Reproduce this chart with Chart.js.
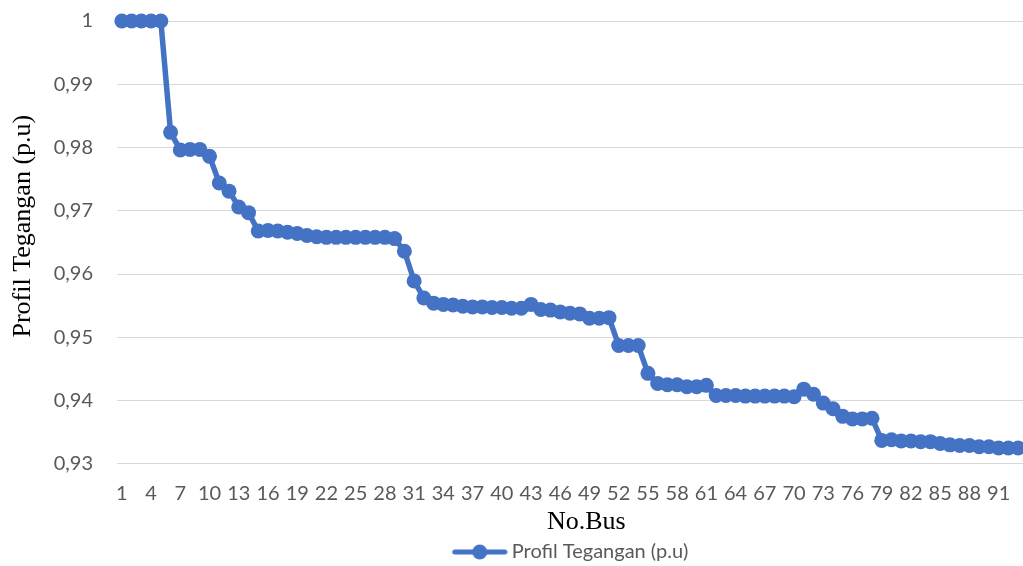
<!DOCTYPE html>
<html>
<head>
<meta charset="utf-8">
<script src="https://cdn.jsdelivr.net/npm/chart.js@4/dist/chart.umd.min.js"></script>
<style>
  html, body { margin: 0; padding: 0; background: #ffffff; overflow: hidden; }
  #wrap { width: 1023px; height: 566px; position: relative; }
</style>
</head>
<body>
<div id="wrap"><canvas id="chart" width="1023" height="566"></canvas></div>
<script>
// Bus numbers along the feeder
const busNumbers = [];
for (let i = 1; i <= 93; i++) busNumbers.push(String(i));

// Voltage magnitude at each bus (p.u)
const voltageProfile = [
  1.0000, 1.0000, 1.0000, 1.0000, 1.0000, 0.9824, 0.9796, 0.9797, 0.9797, 0.9786,
  0.9744, 0.9731, 0.9706, 0.9697, 0.9668, 0.9669, 0.9668, 0.9666, 0.9664, 0.9661,
  0.9659, 0.9658, 0.9658, 0.9658, 0.9658, 0.9658, 0.9658, 0.9658, 0.9656, 0.9636,
  0.9589, 0.9562, 0.9554, 0.9552, 0.9551, 0.9549, 0.9548, 0.9548, 0.9547, 0.9547,
  0.9546, 0.9546, 0.9552, 0.9544, 0.9543, 0.9540, 0.9538, 0.9537, 0.9530, 0.9530,
  0.9531, 0.9487, 0.9487, 0.9487, 0.9443, 0.9427, 0.9425, 0.9425, 0.9422, 0.9422,
  0.9424, 0.9408, 0.9408, 0.9408, 0.9407, 0.9407, 0.9407, 0.9407, 0.9407, 0.9406,
  0.9418, 0.9410, 0.9396, 0.9387, 0.9375, 0.9371, 0.9371, 0.9372, 0.9337, 0.9338,
  0.9336, 0.9336, 0.9335, 0.9335, 0.9332, 0.9330, 0.9329, 0.9329, 0.9327, 0.9327,
  0.9325, 0.9325, 0.9325
];

// Value axis range and step
const yMin = 0.93;
const yMax = 1.00;
const yStep = 0.01;

const seriesName = 'Profil Tegangan (p.u)';
const lineColor = '#4472C4';

// Legend marker: a short line with a dot in the middle
function legendMarker() {
  const c = document.createElement('canvas');
  c.width = 62; c.height = 16;
  const g = c.getContext('2d');
  g.strokeStyle = lineColor;
  g.lineWidth = 5;
  g.lineCap = 'round';
  g.beginPath();
  g.moveTo(9, 8); g.lineTo(59, 8);
  g.stroke();
  g.fillStyle = lineColor;
  g.beginPath();
  g.arc(34, 8, 7.5, 0, Math.PI * 2);
  g.fill();
  return c;
}
const marker = legendMarker();

function formatTick(v) {
  const r = Math.round(v * 100) / 100;
  if (r === 1) return '1';
  return r.toFixed(2).replace('.', ',');
}

const clear = 'rgba(0,0,0,0)';

new Chart(document.getElementById('chart'), {
  type: 'line',
  data: {
    labels: busNumbers,
    datasets: [{
      label: seriesName,
      data: voltageProfile,
      borderColor: lineColor,
      backgroundColor: lineColor,
      borderWidth: 5.5,
      pointRadius: 7.5,
      pointHoverRadius: 7.5,
      pointBorderWidth: 0,
      pointBackgroundColor: lineColor,
      tension: 0,
      clip: false
    }]
  },
  options: {
    responsive: false,
    animation: false,
    events: [],
    layout: { autoPadding: false, padding: { top: 21, right: 0, bottom: -6, left: 0 } },
    plugins: {
      tooltip: { enabled: false },
      legend: {
        position: 'bottom',
        fullSize: false,
        labels: {
          usePointStyle: true,
          pointStyleWidth: 50,
          padding: 1,
          color: '#595959',
          font: { family: 'Lato', size: 20 },
          generateLabels(chart) {
            const items = Chart.defaults.plugins.legend.labels.generateLabels(chart);
            items.forEach(it => { it.pointStyle = marker; });
            return items;
          }
        }
      }
    },
    scales: {
      x: {
        offset: true,
        grid: {
          display: true,
          color: clear,
          drawTicks: true,
          tickLength: 18,
          tickColor: clear
        },
        border: { display: false },
        ticks: {
          autoSkip: false,
          maxRotation: 0,
          minRotation: 0,
          padding: 0,
          color: '#595959',
          font: { family: 'Lato', size: 20 },
          callback(value, index) {
            return index % 3 === 0 ? this.getLabelForValue(value) : '';
          }
        },
        title: {
          display: true,
          text: '     No.Bus',
          color: '#000000',
          font: { family: 'Liberation Serif', size: 26 },
          padding: { top: 1, bottom: 3 }
        }
      },
      y: {
        min: yMin,
        max: yMax,
        grid: {
          color: '#d9d9d9',
          lineWidth: 1,
          drawTicks: true,
          tickLength: 24,
          tickColor: clear
        },
        border: { display: false },
        ticks: {
          stepSize: yStep,
          padding: 0,
          color: '#595959',
          font: { family: 'Lato', size: 20 },
          callback: formatTick
        },
        title: {
          display: true,
          text: '     Profil Tegangan (p.u)',
          color: '#000000',
          font: { family: 'Liberation Serif', size: 26 },
          padding: { top: 8, bottom: 0 }
        },
        afterFit(scale) { scale.width = 117; }
      }
    }
  }
});
</script>
</body>
</html>
